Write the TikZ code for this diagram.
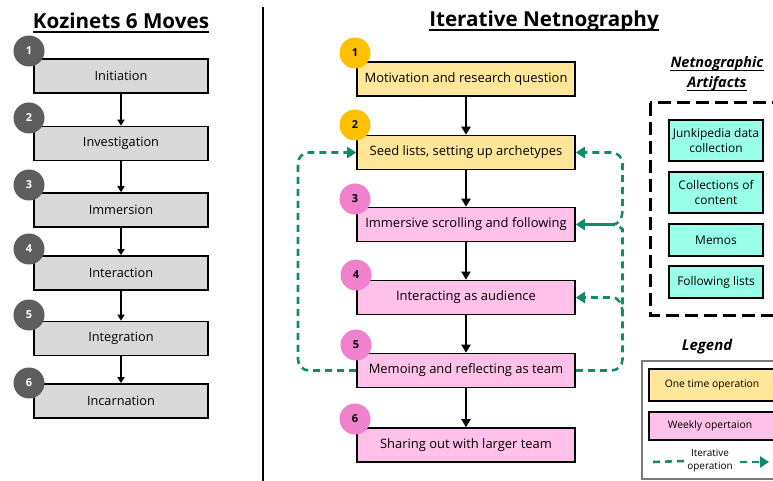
\documentclass[tikz,border=0pt]{standalone}
\usepackage{fontspec}
\setmainfont{Open Sans}
\usetikzlibrary{arrows.meta}
\definecolor{grayfill}{HTML}{D9D9D9}
\definecolor{graycirc}{HTML}{5E5E5E}
\definecolor{yelfill}{HTML}{FFE699}
\definecolor{yelcirc}{HTML}{FFC000}
\definecolor{pinkfill}{HTML}{FFC0EA}
\definecolor{pinkcirc}{HTML}{F081CC}
\definecolor{tealfill}{HTML}{99FFE9}
\definecolor{itgreen}{HTML}{108C6C}
\definecolor{legendgray}{HTML}{7A7A7A}
\tikzset{
  kbox/.style={draw=black, line width=1.6bp, fill=grayfill, minimum width=174bp, minimum height=34bp, inner sep=0pt, font=\fontsize{12.8}{15}\selectfont},
  ybox/.style={draw=black, line width=1.6bp, fill=yelfill, minimum width=218bp, minimum height=34bp, inner sep=0pt, font=\fontsize{13}{15}\selectfont},
  pbox/.style={draw=black, line width=1.6bp, fill=pinkfill, minimum width=218bp, minimum height=34bp, inner sep=0pt, font=\fontsize{13}{15}\selectfont},
  tbox/.style={draw=black, line width=1.6bp, fill=tealfill, minimum width=94bp, inner sep=0pt, align=center, font=\fontsize{12}{16}\selectfont},
  kcirc/.style={circle, fill=graycirc, minimum size=31bp, inner sep=0pt, text=white, font=\fontsize{11}{13}\selectfont\bfseries},
  ycirc/.style={circle, fill=yelcirc, minimum size=31bp, inner sep=0pt, font=\fontsize{11}{13}\selectfont\bfseries},
  pcirc/.style={circle, fill=pinkcirc, minimum size=31bp, inner sep=0pt, font=\fontsize{11}{13}\selectfont\bfseries},
  karrow/.style={line width=1.5bp, -{Triangle[length=6bp,width=7bp]}},
  rarrow/.style={line width=2bp, -{Triangle[length=8bp,width=9bp]}},
  itline/.style={draw=itgreen, line width=2.6bp, dash pattern=on 7bp off 5bp},
  ittip/.style={-{Triangle[length=9bp,width=11bp]}},
  titletext/.style={font=\fontsize{20.7}{24}\selectfont\bfseries, inner xsep=0pt, inner ysep=1bp},
  arttext/.style={font=\fontsize{14.5}{17}\selectfont\bfseries\itshape, inner xsep=0pt, inner ysep=1bp},
}
\begin{document}
\begin{tikzpicture}[x=1bp,y=-1bp]
\clip (0,0) rectangle (773,481);
\fill[white] (0,0) rectangle (773,481);

% divider
\draw[line width=2.5bp] (263,7) -- (263,481);

% titles
\node[titletext] (t1) at (121,21) {Kozinets 6 Moves};
\draw[line width=1.6bp] ([yshift=-3.5bp]t1.base west) -- ([yshift=-3.5bp]t1.base east);
\node[titletext] (t2) at (544,21) {Iterative Netnography};
\draw[line width=1.6bp] ([yshift=-3.5bp]t2.base west) -- ([yshift=-3.5bp]t2.base east);

% left column
\node[kbox] (k1) at (121,76) {Initiation};
\node[kbox] (k2) at (121,143.5) {Investigation};
\node[kbox] (k3) at (121,210) {Immersion};
\node[kbox] (k4) at (121,273) {Interaction};
\node[kbox] (k5) at (121,338.5) {Integration};
\node[kbox] (k6) at (121,401) {Incarnation};
\foreach \a/\b in {k1/k2,k2/k3,k3/k4,k4/k5,k5/k6}
  \draw[karrow] (\a.south) -- (\b.north);
\node[kcirc] (kc1) at (29,51) {1};
\node[kcirc] (kc2) at (29,118) {2};
\node[kcirc] (kc3) at (29,185) {3};
\node[kcirc] (kc4) at (29,249) {4};
\node[kcirc] (kc5) at (29,315) {5};
\node[kcirc] (kc6) at (29,383) {6};

% right column
\node[ybox] (r1) at (466,79) {Motivation and research question};
\node[ybox] (r2) at (466,152.5) {Seed lists, setting up archetypes};
\node[pbox] (r3) at (466,224.5) {Immersive scrolling and following};
\node[pbox] (r4) at (466,297.5) {Interacting as audience};
\node[pbox] (r5) at (466,370.5) {Memoing and reflecting as team};
\node[pbox] (r6) at (466,445) {Sharing out with larger team};
\foreach \a/\b in {r1/r2,r2/r3,r3/r4,r4/r5,r5/r6}
  \draw[rarrow] (\a.south) -- (\b.north);

% iterative loops
\coordinate (lc1) at (298,370.5);
\coordinate (lc2) at (298,152.5);
\draw[itline, ittip, rounded corners=11bp] (r5.west) -- (lc1) -- (lc2) -- (r2.west);
\coordinate (rc1) at (622.5,370.5);
\coordinate (rc2) at (622.5,152.5);
\coordinate (j3) at (612,224.5);
\coordinate (j4) at (612,297.5);
\draw[itline, rounded corners=11bp] (r5.east) -- (rc1) -- (622.5,240)
   .. controls (622.5,230) and (619,224.5) .. (j3);
\draw[draw=itgreen, line width=2.6bp, ittip] (j3) -- (r3.east);
\draw[itline, ittip] (j3) .. controls (619,224.5) and (622.5,219) .. (622.5,209)
   [rounded corners=11bp] -- (rc2) -- (r2.east);
\draw[itline, ittip] (622.5,314) .. controls (622.5,304) and (619,297.5) .. (j4) -- (r4.east);

\node[ycirc] (rc1n) at (355,53) {1};
\node[ycirc] (rc2n) at (355,125) {2};
\node[pcirc] (rc3n) at (355,199) {3};
\node[pcirc] (rc4n) at (356,275) {4};
\node[pcirc] (rc5n) at (356,345) {5};
\node[pcirc] (rc6n) at (355,419) {6};

% artifacts
\node[arttext] (a1) at (717,64) {Netnographic};
\draw[line width=1.2bp] ([yshift=-2.5bp]a1.base west) -- ([yshift=-2.5bp]a1.base east);
\node[arttext] (a2) at (717,84) {Artifacts};
\draw[line width=1.2bp] ([yshift=-2.5bp]a2.base west) -- ([yshift=-2.5bp]a2.base east);
\draw[line width=3bp, dash pattern=on 13bp off 6bp] (650,103) rectangle (800,315);
\node[tbox, minimum height=41bp] (b1) at (716,140.5) {Junkipedia data\\collection};
\node[tbox, minimum height=41bp] (b2) at (716,192.5) {Collections of\\content};
\node[tbox, minimum height=32bp] (b3) at (716,240) {Memos};
\node[tbox, minimum height=32bp] (b4) at (716,282) {Following lists};

% legend
\node[font=\fontsize{15}{18}\selectfont\bfseries\itshape] (lg) at (707,347) {Legend};
\draw[draw=legendgray, line width=2.5bp] (642,361) rectangle (800,479);
\draw[draw=black, line width=1.6bp, fill=yelfill] (649,369) rectangle (800,401);
\node[font=\fontsize{10.4}{12}\selectfont] (l1) at (712,385) {One time operation};
\draw[draw=black, line width=1.6bp, fill=pinkfill] (649,412) rectangle (800,440);
\node[font=\fontsize{10.4}{12}\selectfont] (l2) at (710,426) {Weekly opertaion};
\node[font=\fontsize{10}{13}\selectfont, align=center] (l3) at (710,461) {Iterative\\operation};
\coordinate (ld1) at (653,462);
\coordinate (ld2) at (740,462);
\coordinate (ld3) at (769,462);
\draw[itline] (ld1) -- (l3.west);
\draw[itline, ittip] (ld2) -- (ld3);
\end{tikzpicture}
\end{document}
